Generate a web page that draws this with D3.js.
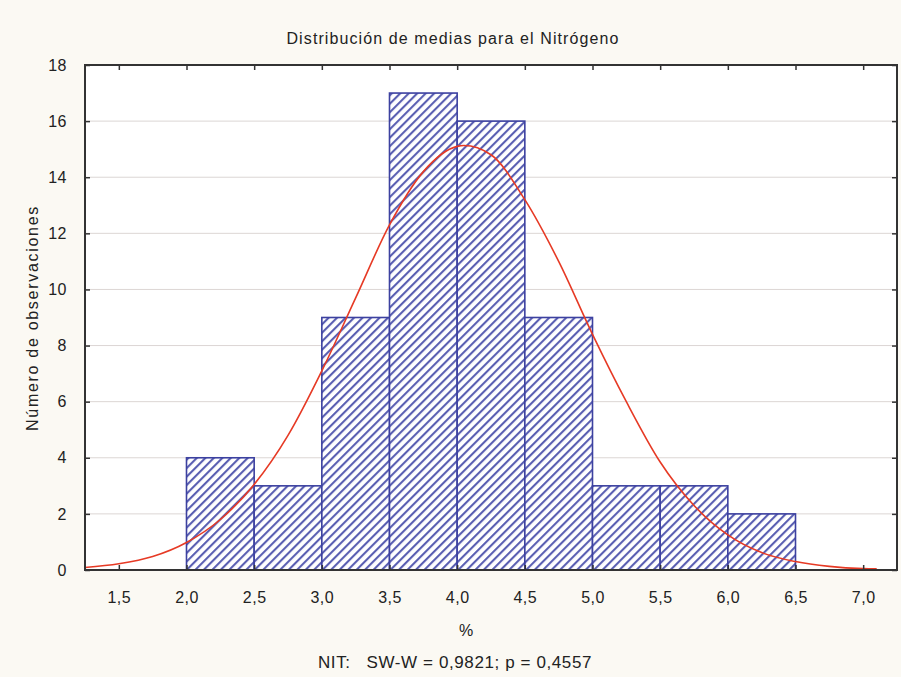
<!DOCTYPE html>
<html><head><meta charset="utf-8">
<script src="https://cdn.jsdelivr.net/npm/d3@7"></script>
<style>
html,body{margin:0;padding:0;background:#fbf9f3;}
svg{display:block;font-family:"Liberation Sans",Arial,sans-serif;}
</style></head>
<body><svg id="c" width="901" height="677"></svg>
<script>
const binStarts = [2.0, 2.5, 3.0, 3.5, 4.0, 4.5, 5.0, 5.5, 6.0];
const binWidth = 0.5;
const counts = [4, 3, 9, 17, 16, 9, 3, 3, 2];
const curveX = [1.25,1.5,1.75,2.0,2.25,2.5,2.75,3.0,3.25,3.5,3.75,4.0,4.05,4.25,4.5,4.75,5.0,5.25,5.5,5.75,6.0,6.25,6.5,6.75,7.0,7.1];
const curveY = [0.09,0.22,0.48,0.98,1.8,3.05,4.8,7.1,9.7,12.3,14.2,15.1,15.13,14.8,13.2,11.0,8.4,6.0,3.85,2.3,1.25,0.62,0.3,0.13,0.05,0.04];
const xTicks = [1.5,2.0,2.5,3.0,3.5,4.0,4.5,5.0,5.5,6.0,6.5,7.0];
const yTicks = [0,2,4,6,8,10,12,14,16,18];
const title = "Distribución de medias para el Nitrógeno";
const xLabel = "%";
const yLabel = "Número de observaciones";
const footnote = "NIT:   SW-W = 0,9821; p = 0,4557";

const svg = d3.select("#c");
const L=85, R=897, T=65, B=570;
const x = d3.scaleLinear().domain([1.25,7.25]).range([L,R]);
const y = d3.scaleLinear().domain([0,18]).range([B,T]);
const fmt = d => d3.format(".1f")(d).replace(".", ",");
const FS = 16;

const defs = svg.append("defs");
const pat = defs.append("pattern").attr("id","hatch").attr("patternUnits","userSpaceOnUse")
  .attr("width",6).attr("height",6).attr("patternTransform","rotate(45)");
pat.append("rect").attr("width",6).attr("height",6).attr("fill","#ffffff");
pat.append("rect").attr("x",0).attr("width",2.1).attr("height",6).attr("fill","#5a5fb2");

// plot bg
svg.append("rect").attr("x",L).attr("y",T).attr("width",R-L).attr("height",B-T).attr("fill","#ffffff");

// grid
svg.append("g").selectAll("line").data(yTicks.filter(d=>d>0&&d<18)).join("line")
  .attr("x1",L).attr("x2",R).attr("y1",d=>y(d)).attr("y2",d=>y(d))
  .attr("stroke","#dcd6d4").attr("stroke-width",1);

// bars
svg.append("g").selectAll("rect").data(binStarts.map((s,i)=>({s,c:counts[i]}))).join("rect")
  .attr("x",d=>x(d.s)).attr("width",d=>x(d.s+binWidth)-x(d.s))
  .attr("y",d=>y(d.c)).attr("height",d=>y(0)-y(d.c))
  .attr("fill","url(#hatch)").attr("stroke","#3c41a0").attr("stroke-width",1.6);

// curve
const pts = curveX.map((v,i)=>[v,curveY[i]]);
svg.append("path").datum(pts)
  .attr("d", d3.line().x(d=>x(d[0])).y(d=>y(d[1])).curve(d3.curveMonotoneX))
  .attr("fill","none").attr("stroke","#e63a25").attr("stroke-width",1.6);

// axes
const axB = d3.axisBottom(x).tickValues(xTicks).tickFormat(fmt).tickSizeInner(-5).tickSizeOuter(0).tickPadding(22);
const gB = svg.append("g").attr("transform",`translate(0,${B})`).call(axB);
const axT = d3.axisTop(x).tickValues(xTicks).tickFormat("").tickSizeInner(-5).tickSizeOuter(0);
const gT = svg.append("g").attr("transform",`translate(0,${T})`).call(axT);
const axL = d3.axisLeft(y).tickValues(yTicks).tickFormat(d3.format("d")).tickSizeInner(-5).tickSizeOuter(0).tickPadding(18);
const gL = svg.append("g").attr("transform",`translate(${L},0)`).call(axL);
const axR = d3.axisRight(y).tickValues(yTicks).tickFormat("").tickSizeInner(-5).tickSizeOuter(0);
const gR = svg.append("g").attr("transform",`translate(${R},0)`).call(axR);
[gB,gT,gL,gR].forEach(g=>{
  g.select(".domain").remove();
  g.selectAll(".tick line").attr("stroke","#333").attr("stroke-width",1.5);
  g.selectAll(".tick text").attr("fill","#222").attr("font-size",FS).attr("letter-spacing",0.5);
});

// frame
svg.append("rect").attr("x",L).attr("y",T).attr("width",R-L).attr("height",B-T)
  .attr("fill","none").attr("stroke","#333").attr("stroke-width",2);

// texts
svg.append("text").attr("x",453).attr("y",44).attr("text-anchor","middle")
  .attr("font-size",FS).attr("letter-spacing",1.1).attr("fill","#222").text(title);
svg.append("text").attr("x",466).attr("y",636).attr("text-anchor","middle")
  .attr("font-size",FS).attr("fill","#222").text(xLabel);
svg.append("text").attr("transform","translate(38,318) rotate(-90)").attr("text-anchor","middle")
  .attr("font-size",FS).attr("letter-spacing",1.7).attr("fill","#222").text(yLabel);
svg.append("text").attr("x",455).attr("y",668).attr("text-anchor","middle")
  .attr("font-size",17).attr("letter-spacing",0.6).attr("fill","#222").attr("xml:space","preserve").style("white-space","pre").text(footnote);
</script></body></html>
